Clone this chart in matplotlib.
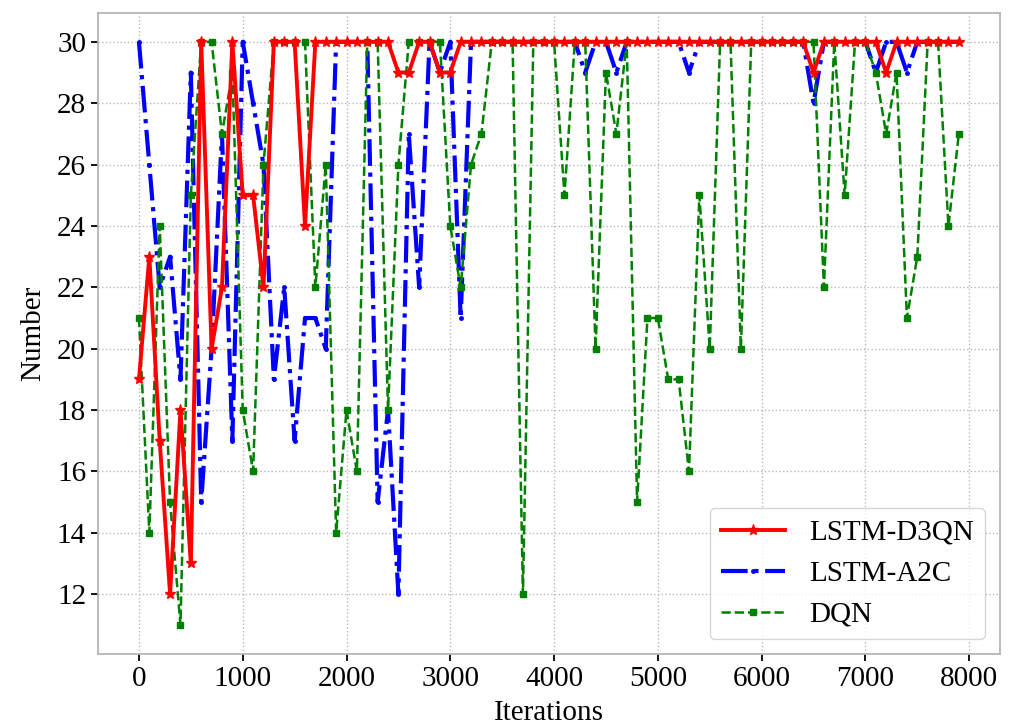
import numpy as np
import matplotlib
matplotlib.use("Agg")
import matplotlib.pyplot as plt

# iterations, one sample every 100
iterations = list(range(0, 8000, 100))

# LSTM-D3QN
d3qn = [19, 23, 17, 12, 18, 13, 30, 20, 22, 30,
        25, 25, 22, 30, 30, 30, 24, 30, 30, 30,
        30, 30, 30, 30, 30, 29, 29, 30, 30, 29,
        29, 30, 30, 30, 30, 30, 30, 30, 30, 30,
        30, 30, 30, 30, 30, 30, 30, 30, 30, 30,
        30, 30, 30, 30, 30, 30, 30, 30, 30, 30,
        30, 30, 30, 30, 30, 29, 30, 30, 30, 30,
        30, 30, 29, 30, 30, 30, 30, 30, 30, 30]

# LSTM-A2C
a2c = [30, 26, 22, 23, 19, 29, 15, 20, 27, 17,
       30, 28, 26, 19, 22, 17, 21, 21, 20, 30,
       30, 30, 30, 15, 18, 12, 27, 22, 30, 29,
       30, 21, 30, 30, 30, 30, 30, 30, 30, 30,
       30, 30, 30, 29, 30, 30, 29, 30, 30, 30,
       30, 30, 30, 29, 30, 30, 30, 30, 30, 30,
       30, 30, 30, 30, 30, 28, 30, 30, 30, 30,
       30, 29, 30, 30, 29, 30, 30, 30, 30, 30]

# DQN
dqn = [21, 14, 24, 15, 11, 25, 30, 30, 27, 29,
       18, 16, 26, 30, 30, 30, 30, 22, 26, 14,
       18, 16, 30, 30, 18, 26, 30, 30, 30, 30,
       24, 22, 26, 27, 30, 30, 30, 12, 30, 30,
       30, 25, 30, 30, 20, 29, 27, 30, 15, 21,
       21, 19, 19, 16, 25, 20, 30, 30, 20, 30,
       30, 30, 30, 30, 30, 30, 22, 30, 25, 30,
       30, 29, 27, 29, 21, 23, 30, 30, 24, 27]

plt.rcParams['font.family'] = ['Liberation Serif', 'DejaVu Serif']
plt.rcParams['font.size'] = 21

fig = plt.figure(figsize=(10.14, 7.27), dpi=100)
ax = fig.add_axes([0.0966, 0.1004, 0.8894, 0.8821])

# draw order: blue under green under red
l_a2c, = ax.plot(iterations, a2c, color='blue', ls='-.', lw=3.0,
                 marker='.', ms=5, label='LSTM-A2C', zorder=2)
l_dqn, = ax.plot(iterations, dqn, color='green', ls='--', lw=1.8,
                 marker='s', ms=4.5, label='DQN', zorder=3)
l_d3qn, = ax.plot(iterations, d3qn, color='red', ls='-', lw=2.8,
                  marker='*', ms=8, label='LSTM-D3QN', zorder=4)

ax.set_xticks(range(0, 8001, 1000))
ax.set_yticks(range(12, 31, 2))
ax.grid(True, ls=':', color='#b8b8b8', lw=1.0)
ax.set_axisbelow(True)
for s in ax.spines.values():
    s.set_color('#b5b5b5')
    s.set_linewidth(1.3)
ax.tick_params(direction='out', length=5, width=1.3, color='black', labelsize=21)

ax.set_xlabel('Iterations', fontsize=21, labelpad=6)
ax.set_ylabel('Number', fontsize=21, labelpad=8)

leg = ax.legend(handles=[l_d3qn, l_a2c, l_dqn], loc='lower right', fontsize=21,
                frameon=True, fancybox=True, handlelength=2.2)
leg.get_frame().set_edgecolor('#cccccc')
leg.get_frame().set_linewidth(1.0)

fig.savefig('out.png', dpi=100)
